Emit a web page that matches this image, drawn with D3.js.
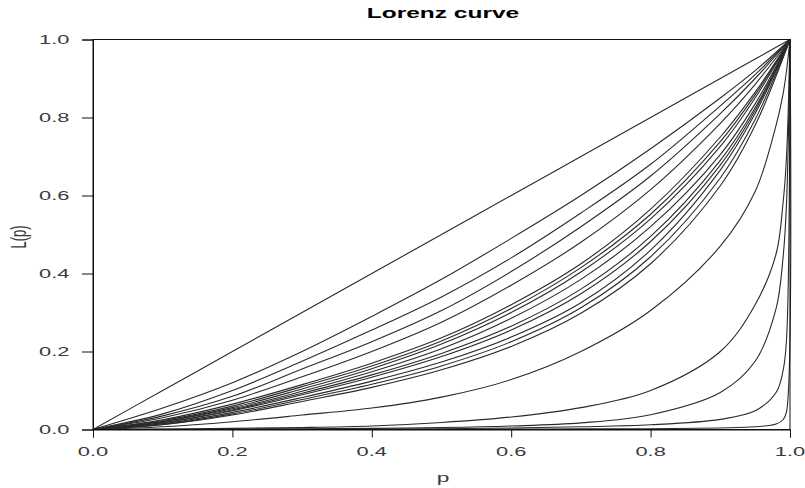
<!DOCTYPE html>
<html>
<head>
<meta charset="utf-8">
<script src="https://cdn.jsdelivr.net/npm/d3@7"></script>
<style>
  body { margin: 0; background: #fff; }
</style>
</head>
<body>
<script>
// shares of population (p) where the curves were read
let pMain = [0, 0.1, 0.2, 0.3, 0.4, 0.5, 0.6, 0.7, 0.8, 0.9, 0.95, 1];
let pTail = [0, 0.1, 0.2, 0.3, 0.4, 0.5, 0.6, 0.7, 0.8, 0.9, 0.95, 0.98, 0.99, 0.995, 1];

// L(p), curves on the pMain grid
let curvesMain = [
  [0, 0.1, 0.2, 0.3, 0.4, 0.5, 0.6, 0.7, 0.8, 0.9, 0.95, 1],
  [0, 0.055, 0.12, 0.2, 0.29, 0.385, 0.49, 0.6, 0.72, 0.85, 0.92, 1],
  [0, 0.04, 0.1, 0.175, 0.255, 0.34, 0.44, 0.555, 0.68, 0.83, 0.91, 1],
  [0, 0.035, 0.085, 0.155, 0.225, 0.305, 0.405, 0.52, 0.65, 0.81, 0.9, 1],
  [0, 0.03, 0.075, 0.135, 0.2, 0.275, 0.37, 0.48, 0.615, 0.785, 0.885, 1],
  [0, 0.025, 0.065, 0.115, 0.17, 0.235, 0.32, 0.425, 0.565, 0.75, 0.865, 1],
  [0, 0.023, 0.06, 0.11, 0.163, 0.227, 0.31, 0.415, 0.552, 0.738, 0.858, 1],
  [0, 0.021, 0.056, 0.104, 0.156, 0.219, 0.3, 0.404, 0.54, 0.726, 0.85, 1],
  [0, 0.02, 0.053, 0.098, 0.148, 0.207, 0.285, 0.385, 0.52, 0.705, 0.835, 1],
  [0, 0.018, 0.05, 0.093, 0.14, 0.195, 0.265, 0.36, 0.495, 0.69, 0.825, 1],
  [0, 0.017, 0.048, 0.089, 0.134, 0.187, 0.255, 0.348, 0.482, 0.678, 0.818, 1],
  [0, 0.015, 0.044, 0.082, 0.124, 0.173, 0.237, 0.325, 0.46, 0.665, 0.81, 1],
  [0, 0.013, 0.04, 0.077, 0.116, 0.163, 0.225, 0.312, 0.443, 0.645, 0.795, 1],
  [0, 0.012, 0.037, 0.072, 0.108, 0.153, 0.213, 0.298, 0.425, 0.625, 0.78, 1]
];

// the most unequal curves, on the finer pTail grid
let curvesTail = [
  [0, 0.007, 0.02, 0.037, 0.055, 0.083, 0.128, 0.2, 0.305, 0.47, 0.61, 0.78, 0.86, 0.92, 1],
  [0, 0.001, 0.003, 0.005, 0.009, 0.018, 0.032, 0.056, 0.1, 0.2, 0.32, 0.45, 0.58, 0.7, 1],
  [0, 0.0005, 0.001, 0.002, 0.003, 0.005, 0.009, 0.017, 0.038, 0.095, 0.175, 0.31, 0.44, 0.58, 1],
  [0, 0, 0.0003, 0.0006, 0.001, 0.002, 0.004, 0.007, 0.012, 0.026, 0.048, 0.095, 0.15, 0.23, 1],
  [0, 0, 0, 0, 0, 0, 0.001, 0.0015, 0.002, 0.004, 0.007, 0.014, 0.025, 0.045, 1]
];

let xTicks = [0, 0.2, 0.4, 0.6, 0.8, 1];
let yTicks = [0, 0.2, 0.4, 0.6, 0.8, 1];

let svg = d3.select("body").append("svg")
  .attr("width", 805)
  .attr("height", 488);

let margin = { top: 39.5, right: 15, bottom: 58.5, left: 93 };
let width = +svg.attr("width");
let height = +svg.attr("height");

let scaleX = d3.scaleLinear().domain([0, 1]).range([margin.left, width - margin.right]);
let scaleY = d3.scaleLinear().domain([0, 1]).range([height - margin.bottom, margin.top]);

let stretch = 1.75; // the text in the picture is wide, stretch it horizontally
let font = "Liberation Sans, Arial, sans-serif";

function stretchedText(x, y, txt, size, anchor, weight, colour) {
  return svg.append("text")
    .attr("transform", `translate(${x},${y}) scale(${stretch},1)`)
    .attr("text-anchor", anchor)
    .attr("font-family", font)
    .attr("font-size", size)
    .attr("font-weight", weight || "normal")
    .attr("fill", colour || "#3a3a3a")
    .text(txt);
}

// curves
let line = d3.line().curve(d3.curveCatmullRom.alpha(0.5));

curvesMain.forEach(vals => {
  svg.append("path")
    .attr("d", line(vals.map((v, i) => [scaleX(pMain[i]), scaleY(v)])))
    .attr("fill", "none")
    .attr("stroke", "#2a2a2a")
    .attr("stroke-width", 1.1);
});

curvesTail.forEach(vals => {
  svg.append("path")
    .attr("d", line(vals.map((v, i) => [scaleX(pTail[i]), scaleY(v)])))
    .attr("fill", "none")
    .attr("stroke", "#2a2a2a")
    .attr("stroke-width", 1.1);
});

// frame
svg.append("rect")
  .attr("x", scaleX(0))
  .attr("y", scaleY(1))
  .attr("width", scaleX(1) - scaleX(0))
  .attr("height", scaleY(0) - scaleY(1))
  .attr("fill", "none")
  .attr("stroke", "#111")
  .attr("stroke-width", 1);

// axes
let xAxis = d3.axisBottom(scaleX).tickValues(xTicks).tickSize(8).tickFormat("");
let yAxis = d3.axisLeft(scaleY).tickValues(yTicks).tickSize(11).tickFormat("");

let xG = svg.append("g")
  .attr("transform", `translate(0,${scaleY(0)})`)
  .call(xAxis);
let yG = svg.append("g")
  .attr("transform", `translate(${scaleX(0)},0)`)
  .call(yAxis);
[xG, yG].forEach(g => {
  g.select(".domain").attr("stroke", "#111");
  g.selectAll(".tick line").attr("stroke", "#111");
});

// tick labels
xTicks.forEach(t => stretchedText(scaleX(t), 455.5, d3.format(".1f")(t), 12.5, "middle"));
yTicks.forEach(t => stretchedText(69.5, scaleY(t) + 4.5, d3.format(".1f")(t), 12.5, "end"));

// titles
stretchedText(443, 17.5, "Lorenz curve", 14, "middle", "bold", "#000");
stretchedText(443, 482, "p", 13, "middle");

svg.append("text")
  .attr("transform", `translate(26,237) scale(${stretch},1) rotate(-90)`)
  .attr("text-anchor", "middle")
  .attr("font-family", font)
  .attr("font-size", 13)
  .attr("fill", "#3a3a3a")
  .text("L(p)");
</script>
</body>
</html>
